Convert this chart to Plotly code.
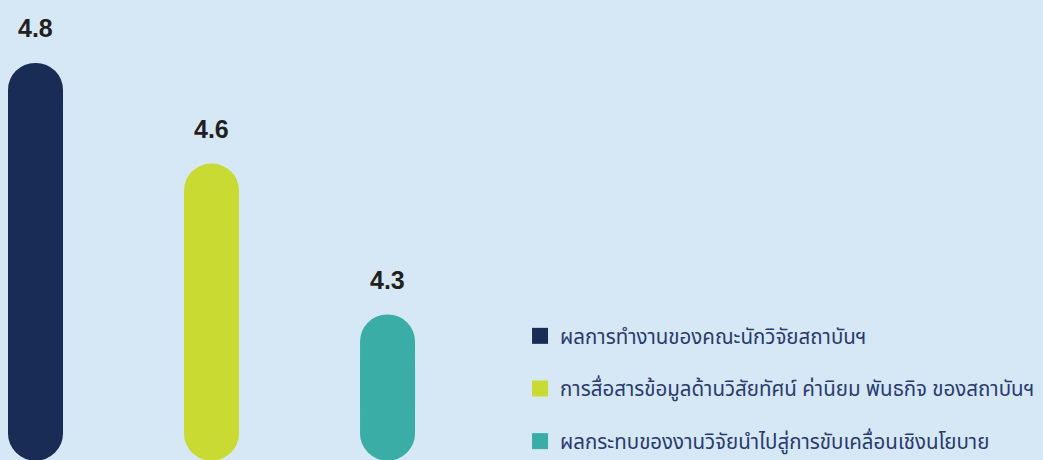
import plotly.graph_objects as go

categories = [
    "ผลการทำงานของคณะนักวิจัยสถาบันฯ",
    "การสื่อสารข้อมูลด้านวิสัยทัศน์ ค่านิยม พันธกิจ ของสถาบันฯ",
    "ผลกระทบของงานวิจัยนำไปสู่การขับเคลื่อนเชิงนโยบาย",
]
scores = [4.8, 4.6, 4.3]
labels = ["4.8", "4.6", "4.3"]
colors = ["#192C55", "#C9DA32", "#39ADA6"]

BG = "#D6E8F5"
AXIS_FLOOR = 4.011
AXIS_TOP = 4.925
PILL_BOTTOM = 4.010
CAP = 0.055  # about one bar half-width in axis units

fig = go.Figure()

xs = list(range(len(scores)))

# each pill is two overlapping rounded bars so both ends come out round
fig.add_trace(
    go.Bar(
        x=xs,
        y=[s - (PILL_BOTTOM + CAP) for s in scores],
        base=[PILL_BOTTOM + CAP] * len(scores),
        width=0.3125,
        marker=dict(color=colors, cornerradius="50%", line=dict(width=0)),
        showlegend=False,
        hoverinfo="skip",
    )
)
fig.add_trace(
    go.Bar(
        x=xs,
        y=[PILL_BOTTOM - (s - CAP) for s in scores],
        base=[s - CAP for s in scores],
        width=0.3125,
        marker=dict(color=colors, cornerradius="50%", line=dict(width=0)),
        showlegend=False,
        hoverinfo="skip",
    )
)

# legend entries
for i, (name, c) in enumerate(zip(categories, colors)):
    fig.add_trace(
        go.Scatter(
            x=[None],
            y=[None],
            mode="markers",
            name=name,
            legendgroup=str(i),
            marker=dict(symbol="square", size=17, color=c),
        )
    )

for x, s, t in zip(xs, scores, labels):
    fig.add_annotation(
        x=x,
        y=s,
        text=f"<b>{t}</b>",
        showarrow=False,
        yshift=35,
        font=dict(family="Liberation Sans, Arial", size=25, color="#231F20"),
    )

fig.update_layout(
    width=1043,
    height=460,
    paper_bgcolor=BG,
    plot_bgcolor=BG,
    margin=dict(l=0, r=0, t=0, b=0, autoexpand=False),
    barmode="overlay",
    xaxis=dict(range=[-0.2017, 5.724], visible=False, fixedrange=True),
    yaxis=dict(range=[AXIS_FLOOR, AXIS_TOP], visible=False, fixedrange=True),
    legend=dict(
        x=0.4986,
        y=0.313,
        xanchor="left",
        yanchor="top",
        traceorder="grouped",
        tracegroupgap=23,
        itemsizing="trace",
        bgcolor="rgba(0,0,0,0)",
        font=dict(family="Noto Sans Thai, Noto Sans, sans-serif", size=20.5, color="#2A3B6E"),
    ),
)

fig.write_html(
    "out.html",
    config={"displayModeBar": False},
    post_script="document.body.style.margin='0';",
)
